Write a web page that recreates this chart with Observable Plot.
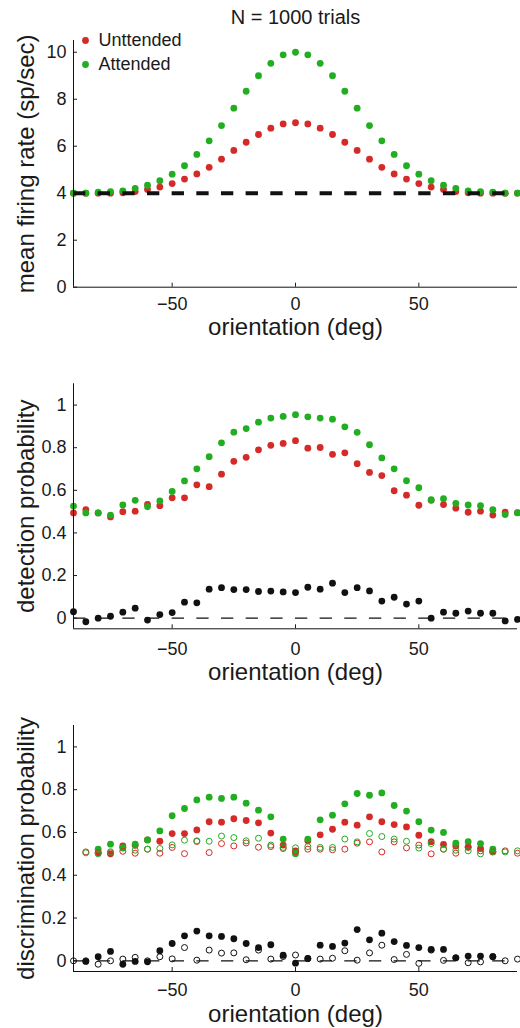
<!DOCTYPE html>
<html>
<head>
<meta charset="utf-8">
<script src="https://cdn.jsdelivr.net/npm/d3@7"></script>
<script src="https://cdn.jsdelivr.net/npm/@observablehq/plot@0.6"></script>
<style>
  html, body { margin: 0; padding: 0; background: #fff; }
  #chart { width: 520px; }
  #chart svg { display: block; }
</style>
</head>
<body>
<div id="chart"></div>
<script>
// ---------- data ----------
const orientation = [-90,-85,-80,-75,-70,-65,-60,-55,-50,-45,-40,-35,-30,-25,-20,-15,-10,-5,0,5,10,15,20,25,30,35,40,45,50,55,60,65,70,75,80,85,90];
const xTicks = [-50, 0, 50];
const rateTicks = [0, 2, 4, 6, 8, 10];
const probTicks = [0, 0.2, 0.4, 0.6, 0.8, 1];
const seriesNames = ["Unttended", "Attended"];
const titleText = "N = 1000 trials";
const baselineRate = 4;

// panel 1: mean firing rate (sp/sec), -90..90
const rateUnattended = [4.0,4.0,4.0,4.0,4.02,4.07,4.16,4.26,4.41,4.6,4.82,5.1,5.45,5.82,6.17,6.5,6.77,6.95,7.0,6.95,6.77,6.5,6.17,5.82,5.45,5.1,4.82,4.6,4.41,4.26,4.16,4.07,4.02,4.0,4.0,4.0,4.0];
const rateAttended = [4.0,4.0,4.05,4.07,4.1,4.21,4.34,4.53,4.81,5.17,5.65,6.23,6.88,7.62,8.34,9.0,9.53,9.89,10.0,9.89,9.53,9.0,8.34,7.62,6.88,6.23,5.65,5.17,4.81,4.53,4.34,4.21,4.1,4.07,4.05,4.0,4.0];

// panel 2: detection probability, -90..90
const detUnattended = [0.494,0.509,0.494,0.475,0.5,0.502,0.534,0.528,0.565,0.565,0.626,0.617,0.676,0.736,0.755,0.79,0.811,0.82,0.833,0.798,0.801,0.769,0.776,0.725,0.684,0.669,0.598,0.577,0.53,0.553,0.533,0.516,0.497,0.502,0.484,0.497,0.495];
const detAttended = [0.526,0.494,0.494,0.484,0.531,0.553,0.523,0.55,0.595,0.644,0.701,0.758,0.823,0.873,0.89,0.92,0.939,0.947,0.955,0.945,0.939,0.934,0.898,0.872,0.814,0.752,0.701,0.645,0.612,0.556,0.561,0.539,0.531,0.528,0.509,0.486,0.494];
const detDifference = [0.03,-0.017,0.0,0.009,0.028,0.047,-0.009,0.017,0.026,0.075,0.072,0.136,0.143,0.134,0.134,0.125,0.127,0.123,0.12,0.145,0.136,0.164,0.12,0.143,0.128,0.08,0.098,0.066,0.08,0.0,0.028,0.023,0.033,0.023,0.023,-0.013,-0.006];

// panel 3: discrimination probability
// filled colored: -80..80
const discUnattendedFilled = [0.506,0.5,0.537,0.54,0.565,0.559,0.595,0.595,0.612,0.65,0.648,0.664,0.656,0.645,0.597,0.541,0.514,0.561,0.589,0.615,0.648,0.634,0.673,0.65,0.637,0.626,0.587,0.557,0.544,0.537,0.533,0.525,0.509];
const discAttendedFilled = [0.522,0.545,0.527,0.545,0.565,0.607,0.678,0.712,0.752,0.765,0.759,0.765,0.737,0.704,0.673,0.569,0.501,0.569,0.659,0.681,0.734,0.782,0.774,0.785,0.726,0.7,0.65,0.611,0.6,0.55,0.557,0.548,0.522];
// open colored: -85..90
const discUnattendedOpen = [0.509,0.505,0.505,0.512,0.503,0.522,0.503,0.53,0.501,0.558,0.506,0.548,0.537,0.551,0.531,0.534,0.525,0.51,0.522,0.522,0.519,0.522,0.55,0.556,0.509,0.556,0.528,0.541,0.5,0.522,0.503,0.53,0.514,0.51,0.514,0.503];
const discAttendedOpen = [0.505,0.5,0.51,0.53,0.517,0.522,0.525,0.542,0.564,0.561,0.559,0.583,0.576,0.561,0.573,0.541,0.53,0.528,0.534,0.53,0.53,0.569,0.556,0.595,0.581,0.569,0.559,0.527,0.548,0.522,0.517,0.514,0.5,0.51,0.509,0.514];
// black filled: -85..80 ; black open: -90..90
const discDiffFilled = [-0.003,0.019,0.044,-0.016,-0.003,-0.005,0.047,0.081,0.117,0.139,0.117,0.114,0.103,0.081,0.062,0.075,0.026,-0.011,0.011,0.073,0.067,0.083,0.146,0.098,0.129,0.09,0.072,0.062,0.053,0.053,0.014,0.022,0.022,0.019];
const discDiffOpen = [0.0,0.0,-0.016,0.0,0.008,0.016,0.0,0.019,0.009,0.062,0.003,0.05,0.036,0.037,0.005,0.05,0.008,0.02,0.027,0.01,0.008,0.012,0.047,0.003,0.037,0.073,0.006,0.03,-0.012,0.05,0.002,0.014,-0.009,-0.005,0.02,0.0,0.008];

// ---------- styling ----------
const RED = "#d42a28";
const GREEN = "#21ae21";
const BLACK = "#111111";
const FONT = "'Liberation Sans', Arial, Helvetica, sans-serif";
const xs80 = orientation.slice(2, 35);   // -80..80
const xs85 = orientation.slice(1);       // -85..90
const xs85to80 = orientation.slice(1, 35); // -85..80

const zip = (xs, ys) => xs.map((x, i) => ({x, y: ys[i]}));
const fmtX = d => (d < 0 ? "\u2212" + Math.abs(d) : String(d));
const fmtY = d => String(d);

function panel({height, marginTop, marginBottom, yDomain, yTicks, yLabel, xTickPad, xLabelDy, marks}) {
  return Plot.plot({
    width: 520,
    height,
    marginTop,
    marginBottom,
    marginLeft: 73,
    marginRight: 3,
    style: {fontFamily: FONT, fontSize: "18px", color: "#1a1a1a", background: "#fff", overflow: "visible"},
    x: {domain: [-90, 90]},
    y: {domain: yDomain},
    marks: [
      ...marks,
      Plot.ruleX([-90], {stroke: BLACK, strokeWidth: 1}),
      Plot.ruleY([yDomain[0]], {stroke: BLACK, strokeWidth: 1}),
      Plot.axisX(xTicks, {tickSize: -4, tickPadding: xTickPad + 4, tickFormat: fmtX, label: null, fontSize: 18}),
      Plot.axisY(yTicks, {tickSize: -4, tickPadding: 11, tickFormat: fmtY, label: null, fontSize: 18}),
      Plot.text(["orientation (deg)"], {frameAnchor: "bottom", dy: xLabelDy, fontSize: 24, textAnchor: "middle", lineAnchor: "middle", fill: "#1a1a1a"}),
      Plot.text([yLabel], {frameAnchor: "left", dx: -47, rotate: -90, fontSize: 24, textAnchor: "middle", lineAnchor: "middle", fill: "#1a1a1a"})
    ]
  });
}

const dashPattern = "12.33,12.33";

const p1 = panel({
  height: 350, marginTop: 40, marginBottom: 63.3,
  yDomain: [0, 10.5], yTicks: rateTicks, yLabel: "mean firing rate (sp/sec)",
  xTickPad: 10, xLabelDy: 40,
  marks: [
    Plot.dot(zip(orientation, rateUnattended), {x: "x", y: "y", fill: RED, r: 3.4}),
    Plot.dot(zip(orientation, rateAttended), {x: "x", y: "y", fill: GREEN, r: 3.4}),
    Plot.ruleY([baselineRate], {stroke: BLACK, strokeWidth: 4, strokeDasharray: dashPattern}),
    Plot.dot([seriesNames[0]], {frameAnchor: "top-left", dx: 12, dy: 0, fill: RED, r: 3.4}),
    Plot.dot([seriesNames[1]], {frameAnchor: "top-left", dx: 12, dy: 24, fill: GREEN, r: 3.4}),
    Plot.text([seriesNames[0]], {frameAnchor: "top-left", dx: 25, dy: 0, text: d => d, textAnchor: "start", lineAnchor: "middle", fontSize: 18, fill: "#1a1a1a"}),
    Plot.text([seriesNames[1]], {frameAnchor: "top-left", dx: 25, dy: 24, text: d => d, textAnchor: "start", lineAnchor: "middle", fontSize: 18, fill: "#1a1a1a"}),
    Plot.text([titleText], {frameAnchor: "top", dy: -23, text: d => d, fontSize: 20, textAnchor: "middle", lineAnchor: "middle", fill: "#1a1a1a"})
  ]
});

const p2 = panel({
  height: 340, marginTop: 33.3, marginBottom: 61.7,
  yDomain: [-0.05, 1.1], yTicks: probTicks, yLabel: "detection probability",
  xTickPad: 13, xLabelDy: 44,
  marks: [
    Plot.dot(zip(orientation, detUnattended), {x: "x", y: "y", fill: RED, r: 3.4}),
    Plot.dot(zip(orientation, detAttended), {x: "x", y: "y", fill: GREEN, r: 3.4}),
    Plot.ruleY([0], {stroke: BLACK, strokeWidth: 1.3, strokeDasharray: dashPattern}),
    Plot.dot(zip(orientation, detDifference), {x: "x", y: "y", fill: BLACK, r: 3.4})
  ]
});

const p3 = panel({
  height: 338, marginTop: 35, marginBottom: 57,
  yDomain: [-0.05, 1.1], yTicks: probTicks, yLabel: "discrimination probability",
  xTickPad: 12, xLabelDy: 43,
  marks: [
    Plot.dot(zip(xs80, discUnattendedFilled), {x: "x", y: "y", fill: RED, r: 3.4}),
    Plot.dot(zip(xs80, discAttendedFilled), {x: "x", y: "y", fill: GREEN, r: 3.4}),
    Plot.dot(zip(xs85, discUnattendedOpen), {x: "x", y: "y", fill: "none", stroke: RED, strokeWidth: 1, r: 3}),
    Plot.dot(zip(xs85, discAttendedOpen), {x: "x", y: "y", fill: "none", stroke: GREEN, strokeWidth: 1, r: 3}),
    Plot.ruleY([0], {stroke: BLACK, strokeWidth: 1.3, strokeDasharray: dashPattern}),
    Plot.dot(zip(xs85to80, discDiffFilled), {x: "x", y: "y", fill: BLACK, r: 3.4}),
    Plot.dot(zip(orientation, discDiffOpen), {x: "x", y: "y", fill: "#fff", fillOpacity: 0, stroke: BLACK, strokeWidth: 1, r: 3})
  ]
});

const chart = document.getElementById("chart");
chart.append(p1, p2, p3);
</script>
</body>
</html>
